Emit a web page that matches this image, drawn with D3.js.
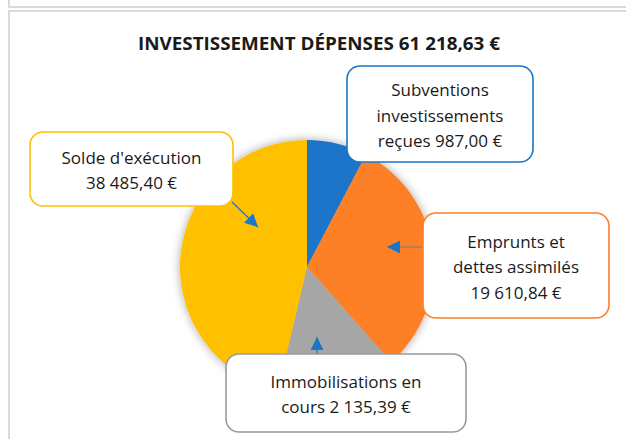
<!DOCTYPE html>
<html>
<head>
<meta charset="utf-8">
<script src="https://cdn.jsdelivr.net/npm/d3@7"></script>
<style>
  html, body { margin: 0; padding: 0; background: #fff; }
  svg { display: block; font-family: "Open Sans", "Noto Sans", sans-serif; }
</style>
</head>
<body>
<svg id="chart" width="626" height="439"></svg>
<script>
const title = "INVESTISSEMENT DÉPENSES 61 218,63 €";
const categories = ["Subventions investissements reçues", "Emprunts et dettes assimilés", "Immobilisations en cours", "Solde d'exécution"];
const amounts = ["987,00 €", "19 610,84 €", "2 135,39 €", "38 485,40 €"];
// slice sizes as drawn (share of the circle, in %)
const sliceShares = [7.7, 30.8, 15.2, 46.3];
const colors = ["#1b75c9", "#fd7f28", "#a6a6a6", "#ffc000"];

// label lines as they wrap in the callouts
const labelLines = [
  ["Subventions", "investissements", "reçues 987,00 €"],
  ["Emprunts et", "dettes assimilés", "19 610,84 €"],
  ["Immobilisations en", "cours 2 135,39 €"],
  ["Solde d'exécution", "38 485,40 €"]
];

// callout boxes and leader lines (layout)
const callouts = [
  { x: 347, y: 66, w: 186, h: 96, line: [[352, 146], [348, 154]], lineColor: "#1b75c9", arrow: false },
  { x: 423, y: 213, w: 186, h: 105, line: [[423, 247], [387, 247]], lineColor: "#7f7f7f", arrow: true },
  { x: 226, y: 354, w: 240, h: 78, line: [[317, 354], [317, 337]], lineColor: "#1b75c9", arrow: true },
  { x: 30, y: 132, w: 203, h: 74, line: [[232, 202], [258, 227]], lineColor: "#1b75c9", arrow: true }
];

const svg = d3.select("#chart");

// card frame
const frame = svg.append("g").attr("stroke", "#dadada").attr("stroke-width", 2).attr("fill", "none");
frame.append("path").attr("d", "M9,0V7H626");
frame.append("path").attr("d", "M626,11H9V439");

const defs = svg.append("defs");
const shadow = defs.append("filter").attr("id", "shadow")
  .attr("x", "-20%").attr("y", "-20%").attr("width", "140%").attr("height", "140%");
shadow.append("feDropShadow")
  .attr("dx", 0).attr("dy", 0).attr("stdDeviation", 5)
  .attr("flood-color", "#000").attr("flood-opacity", 0.35);

defs.append("marker")
  .attr("id", "arrow")
  .attr("viewBox", "0 0 10 10")
  .attr("refX", 10).attr("refY", 5)
  .attr("markerUnits", "userSpaceOnUse")
  .attr("markerWidth", 13).attr("markerHeight", 13)
  .attr("orient", "auto")
  .append("path")
  .attr("d", "M0,0L10,5L0,10Z")
  .attr("fill", "#1b75c9");

// title
svg.append("text")
  .attr("x", 319)
  .attr("y", 50)
  .attr("text-anchor", "middle")
  .attr("font-weight", "bold")
  .attr("font-size", 18)
  .attr("textLength", 362)
  .attr("lengthAdjust", "spacingAndGlyphs")
  .attr("fill", "#1a1a1a")
  .text(title);

// pie
const cx = 307, cy = 267, radius = 127;
const pie = d3.pie().sort(null).value(d => d)(sliceShares);
const arc = d3.arc().innerRadius(0).outerRadius(radius);

const pieG = svg.append("g")
  .attr("transform", `translate(${cx},${cy})`)
  .attr("filter", "url(#shadow)");

pieG.selectAll("path")
  .data(pie)
  .enter()
  .append("path")
  .attr("d", arc)
  .attr("fill", (d, i) => colors[i]);

// leader lines
svg.selectAll("line.leader")
  .data(callouts)
  .enter()
  .append("line")
  .attr("class", "leader")
  .attr("x1", d => d.line[0][0])
  .attr("y1", d => d.line[0][1])
  .attr("x2", d => d.line[1][0])
  .attr("y2", d => d.line[1][1])
  .attr("stroke", d => d.lineColor)
  .attr("stroke-width", 1.2)
  .attr("marker-end", d => d.arrow ? "url(#arrow)" : null);

// callout boxes
const boxes = svg.selectAll("g.callout")
  .data(callouts)
  .enter()
  .append("g")
  .attr("class", "callout");

boxes.append("rect")
  .attr("x", d => d.x)
  .attr("y", d => d.y)
  .attr("width", d => d.w)
  .attr("height", d => d.h)
  .attr("rx", 13)
  .attr("fill", "#fff")
  .attr("stroke", (d, i) => i === 2 ? "#999" : colors[i])
  .attr("stroke-width", 1.6);

const lineH = 25.5;
boxes.each(function (d, i) {
  const lines = labelLines[i];
  const midY = d.y + d.h / 2;
  const first = midY - (lines.length - 1) * lineH / 2 + 7.5;
  d3.select(this).selectAll("text")
    .data(lines)
    .enter()
    .append("text")
    .attr("x", d.x + d.w / 2)
    .attr("y", (t, j) => first + j * lineH)
    .attr("text-anchor", "middle")
    .attr("font-size", 17)
    .attr("fill", "#1a1a1a")
    .text(t => t);
});
</script>
</body>
</html>
